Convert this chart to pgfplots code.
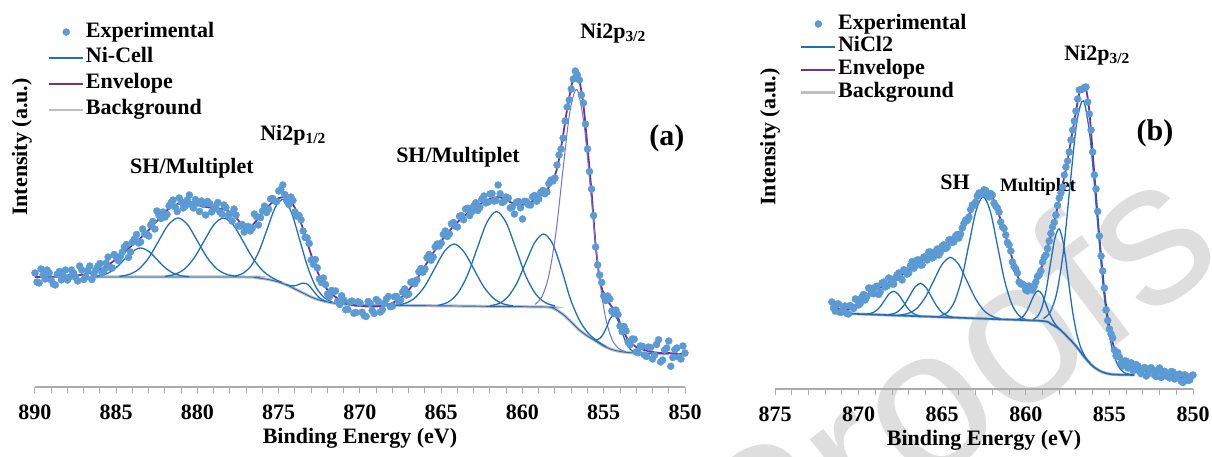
\documentclass[border=0pt]{standalone}
\usepackage{fontspec}
\setmainfont{Liberation Serif}
\setsansfont{Liberation Sans}
\usepackage{pgfplots}
\pgfplotsset{compat=1.18}

\definecolor{expblue}{RGB}{91,155,213}
\definecolor{compblue}{RGB}{30,110,192}
\definecolor{mainviolet}{RGB}{112,112,215}
\definecolor{envpurple}{RGB}{112,48,160}
\definecolor{bggray}{RGB}{191,191,191}
\definecolor{axgray}{RGB}{170,170,170}
\definecolor{wmgray}{RGB}{222,222,222}

\newcommand{\bigbf}{\bfseries\fontsize{22}{24}\selectfont}
\newcommand{\labbf}{\bfseries\fontsize{30}{32}\selectfont}

\pgfplotsset{
  xps/.style={
    scale only axis, clip=false, x dir=reverse, ymin=0,
    axis x line*=bottom, axis y line*=left,
    y axis line style={draw=none},
    x axis line style={draw=axgray, line width=1.3pt, -},
    ytick=\empty,
    minor x tick num=4,
    tick align=outside,
    major tick length=6pt, minor tick length=6pt,
    tick style={draw=axgray, line width=1pt},
    xticklabel style={font=\bigbf, text=black, yshift=-8pt},
    /pgf/number format/assume math mode=true,
    /pgf/number format/1000 sep={},
    xlabel={Binding Energy (eV)},
    ylabel={Intensity (a.u.)},
    every axis x label/.style={at={(axis description cs:0.5,0)}, anchor=center, yshift=-51pt, font=\bigbf},
    legend style={draw=none, fill=none, inner sep=0pt, outer sep=0pt, font=\bigbf, anchor=north west,
      nodes={inner xsep=1.5pt, inner ysep=0pt, text height=15pt, text depth=5pt}},
    legend cell align=left,
  },
  comp/.style={draw=compblue, line width=1.3pt, smooth, forget plot},
  mainc/.style={draw=mainviolet, line width=1pt, smooth, forget plot},
  envl/.style={draw=envpurple, line width=1.8pt, smooth, forget plot},
  bgl/.style={draw=bggray, line width=3pt, smooth, forget plot},
  bgblue/.style={draw=compblue, line width=0.9pt, smooth, forget plot},
  expt/.style={only marks, mark=*, mark size=3.5pt, draw=expblue, fill=expblue, forget plot},
  linelegend/.style={legend image code/.code={\draw[##1] (0pt,0pt) -- (34pt,0pt);}},
  dotlegend/.style={legend image code/.code={\path (0pt,0pt) -- (34pt,0pt);\draw[##1] plot coordinates {(17pt,0pt)};}},
}

\begin{document}
\begin{tikzpicture}
\useasboundingbox (0pt,0pt) rectangle (1212pt,456pt);
\node[rotate=37, text=wmgray, font=\sffamily\fontsize{205}{205}\selectfont, inner sep=0pt] at (948pt,76pt) {Proofs};

% ---------------- panel (a) ----------------
\begin{axis}[xps, at={(35pt,69pt)}, anchor=south west, width=650pt, height=387pt, ymax=387,
  xmin=850, xmax=890, xtick={850,855,...,890},
  every axis y label/.style={at={(axis description cs:-0.02,0.62)}, rotate=90, anchor=center, font=\bigbf},
  legend style={at={(axis description cs:0.02,0.943)}, row sep=5.9pt}]

\addplot[bgl] coordinates {(886.5,110)(877,110)(876.5,109.5)(876,108.5)(875.5,107)(875,105)(874.5,102)(874,98)(873.5,94)(873,90)(872.5,87)(872,85)(871.5,83.5)(871,83)(870,82)(864,81)(858.5,80)(858.25,79.5)(858,78)(857.5,72.5)(857,65)(856.5,57)(856,51)(855.5,46)(855,41)(854.5,37.5)(854,35.5)(853.5,34.5)(853,34)(852,33.5)(851,33)};
\addplot[bgblue] coordinates {(886.5,110)(877,110)(876.5,109.5)(876,108.5)(875.5,107)(875,105)(874.5,102)(874,98)(873.5,94)(873,90)(872.5,87)(872,85)(871.5,83.5)(871,83)(870,82)(864,81)(858.5,80)(858.25,79.5)(858,78)(857.5,72.5)(857,65)(856.5,57)(856,51)(855.5,46)(855,41)(854.5,37.5)(854,35.5)(853.5,34.5)(853,34)(852,33.5)(851,33)};

\addplot[envl] coordinates {(890,110)(889.5,110)(889,110)(888.5,110.5)(888,111)(887.5,111.5)(887,112.5)(886.5,114.5)(886,117.5)(885.5,122)(885,128)(884.5,135)(884,142)(883.5,149)(883,157)(882.5,166)(882,175)(881.5,181)(881,184)(880.5,184)(880,182)(879.5,180)(879,179)(878.5,178)(878,175)(877.5,167)(877,157)(876.5,164)(876,174)(875.5,183)(875,189)(874.5,189)(874,179)(873.5,158)(873,132)(872.5,111)(872,97)(871.5,90)(871,85)(870.5,82)(870,81)(869.5,80.5)(869,80.5)(868.5,81.5)(868,84)(867.5,89)(867,97)(866.5,108)(866,121)(865.5,134)(865,146)(864.5,156)(864,165)(863.5,172)(863,179)(862.5,184)(862,188)(861.5,190)(861,187)(860.5,183)(860,182)(859.5,185)(859,190)(858.5,197)(858,212)(857.75,228)(857.5,252)(857.25,278)(857,300)(856.75,314)(856.5,306)(856.25,282)(856,240)(855.75,195)(855.5,142)(855.25,108)(855,93)(854.75,86)(854.5,80)(854.25,75)(854,64)(853.75,55)(853.5,47)(853,40)(852.5,37)(852,35)(851.5,34)(851,34)(850.5,33)(850,33)};

\addplot[expt] coordinates {(890,114)(889.75,104)(889.5,112)(889.25,117)(889,107)(888.75,102)(888.5,115.5)(888.25,111)(888,107)(887.75,117)(887.5,109.5)(887.25,121)(887,107.5)(886.75,116.5)(886.5,107.5)(886.25,117)(886,123.5)(885.75,117)(885.5,130)(885.25,119)(885,130)(884.75,130.5)(884.5,140)(884.25,129.5)(884,145)(883.75,152.5)(883.5,145)(883.25,153)(883,151)(882.75,165.5)(882.5,176)(882.25,168.5)(882,170)(881.75,181)(881.5,187)(881.25,175.5)(881,185)(880.75,181)(880.5,192)(880.25,179)(880,184)(879.75,186)(879.5,172)(879.25,183.5)(879,178)(878.75,184.5)(878.5,173)(878.25,179.5)(878,173)(877.75,178)(877.5,161)(877.25,162.5)(877,160)(876.75,156)(876.5,173)(876.25,162)(876,176)(875.75,174.5)(875.5,188)(875.25,186)(875,196)(874.75,202)(874.5,186)(874.25,190)(874,175)(873.75,171.5)(873.5,156)(873.25,149)(873,127)(872.75,127.5)(872.5,108)(872.25,109)(872,93)(871.75,96.5)(871.5,96)(871.25,82.5)(871,87)(870.75,77.5)(870.5,86)(870.25,74.5)(870,84)(869.75,71.5)(869.5,85.5)(869.25,76.5)(869,87.5)(868.75,75)(868.5,83.5)(868.25,90.5)(868,81)(867.75,90.5)(867.5,87)(867.25,98)(867,93)(866.75,105.5)(866.5,107)(866.25,118.5)(866,118)(865.75,132.5)(865.5,130)(865.25,143)(865,144)(864.75,156)(864.5,153)(864.25,164.5)(864,160)(863.75,171.5)(863.5,178)(863.25,171.5)(863,181)(862.75,176.5)(862.5,188)(862.25,184)(862,193)(861.75,186)(861.5,202)(861.25,184.5)(861,190)(860.75,179)(860.5,173)(860.25,185.5)(860,168)(859.75,185.5)(859.5,182)(859.25,191.5)(859,188)(858.75,196.5)(858.5,195)(858.25,207)(858,209)(857.75,232)(857.5,249)(857.25,280)(857,298)(856.75,316)(856.5,307)(856.25,284)(856,238)(855.75,198)(855.5,140)(855.25,112)(855,91)(854.75,91)(854.5,76)(854.25,77)(854,61)(853.75,60.5)(853.5,45)(853.25,48)(853,35)(852.75,41)(852.5,32)(852.25,40)(852,28)(851.75,42.5)(851.5,25)(851.25,37)(851,46)(850.75,29.5)(850.5,39)(850.25,28)(850,34)};
\addplot[expt] coordinates {(889.875,105)(889.625,118)(889.375,108)(889.125,114)(888.875,103)(888.625,113)(888.375,107)(888.125,117)(887.875,110)(887.625,114)(887.375,106)(887.125,117)(886.875,110)(886.625,121)(886.375,113)(886.125,121)(885.875,114)(885.625,124)(885.375,119.5)(885.125,132.5)(884.875,126.5)(884.625,135)(884.375,142.5)(884.125,135)(883.875,148)(883.625,144)(883.375,158)(883.125,153)(882.875,162)(882.625,158)(882.375,172)(882.125,175)(881.875,172.5)(881.625,184.5)(881.375,180)(881.125,189)(880.875,179)(880.625,187)(880.375,182.5)(880.125,187.5)(879.875,175.5)(879.625,182.5)(879.375,185.5)(879.125,175)(878.875,180.5)(878.625,175)(878.375,182)(878.125,171.5)(877.875,166)(877.625,172)(877.375,161)(877.125,155)(876.875,160.5)(876.625,159)(876.375,170.5)(876.125,169.5)(875.875,181)(875.625,177.75)(875.375,188.5)(875.125,185.5)(874.875,197.5)(874.625,192.5)(874.375,182.5)(874.125,186.5)(873.875,170.75)(873.625,167.25)(873.375,149.5)(873.125,143.5)(872.875,122.75)(872.625,119.25)(872.375,104.5)(872.125,102.5)(871.875,90.25)(871.625,95.75)(871.375,85.75)(871.125,91.25)(870.875,77.25)(870.625,84.75)(870.375,73.75)(870.125,85.25)(869.875,74.75)(869.625,70.5)(869.375,83.5)(869.125,73.5)(868.875,85.75)(868.625,77.25)(868.375,88)(868.125,80.25)(867.875,90.25)(867.625,85.75)(867.375,95)(867.125,92)(866.875,104.75)(866.625,103.25)(866.375,115.25)(866.125,114.75)(865.875,129.25)(865.625,126.75)(865.375,140)(865.125,141)(864.875,152.5)(864.625,150.5)(864.375,163.25)(864.125,160.75)(863.875,170.75)(863.625,167.25)(863.375,178.75)(863.125,175.25)(862.875,184.25)(862.625,179.75)(862.375,191)(862.125,185)(861.875,193.5)(861.625,186.5)(861.375,193.25)(861.125,185.75)(860.875,189)(860.625,180)(860.375,184.75)(860.125,179.25)(859.875,185.75)(859.625,182.25)(859.375,190.25)(859.125,185.75)(858.875,194.75)(858.625,193.25)(858.375,203.5)(858.125,206)(857.875,222)(857.625,238)(857.375,266)(857.125,287)(856.875,308)(856.625,312)(856.375,292)(856.125,263)(855.875,215.5)(855.625,171.5)(855.375,122)(855.125,104.5)(854.875,86.5)(854.625,88)(854.375,73.5)(854.125,72.5)(853.875,55.5)(853.625,56)(853.375,42.25)(853.125,47.75)(852.875,34.25)(852.625,40.75)(852.375,30.5)(852.125,39.5)(851.875,31.75)(851.625,47.25)(851.375,27)(851.125,39)(850.875,20.75)(850.625,37.25)(850.375,30)(850.125,41)};

\addplot[comp] coordinates {(886.5,110.3)(886,111.3)(885.5,113.9)(885,119.4)(884.5,127.6)(884,135.6)(883.5,139)(883,135.6)(882.5,127.6)(882,119.4)(881.5,113.9)(881,111.3)(880.5,110.3)};
\addplot[comp] coordinates {(884.8,110.7)(884.2,112.6)(883.6,118)(883,129.2)(882.4,145.8)(881.8,162.1)(881.2,169)(880.6,162.1)(880,145.8)(879.4,129.2)(878.8,118)(878.2,112.6)(877.6,110.7)};
\addplot[comp] coordinates {(882,110.7)(881.4,112.6)(880.8,118)(880.2,129.2)(879.6,145.8)(879,162.1)(878.4,169)(877.8,162.1)(877.2,145.8)(876.6,128.9)(876,116.5)(875.4,109.2)(874.8,104.5)};
\addplot[comp] coordinates {(877.7,110.9)(877.2,113.7)(876.7,121.2)(876.2,136.3)(875.7,158.5)(875.2,180.1)(874.7,187.6)(874.2,173.7)(873.7,146.5)(873.2,119.1)(872.7,99.6)(872.2,89.5)(871.7,84.9)};
\addplot[comp] coordinates {(874.55,102.5)(874.3,101.3)(874.05,101.1)(873.8,102.3)(873.55,103.8)(873.3,103.4)(873.05,99.8)(872.8,94.7)(872.55,90)(872.3,87.1)(872.05,85.4)};
\addplot[comp] coordinates {(867.8,81.9)(867.2,83.7)(866.6,89.4)(866,101.1)(865.4,118.6)(864.8,135.7)(864.2,143)(863.6,135.2)(863,118.1)(862.4,100.6)(861.8,88.9)(861.2,83.2)(860.6,81.2)};
\addplot[comp] coordinates {(865.2,81.6)(864.6,84.7)(864,93.4)(863.4,111.3)(862.8,138.1)(862.2,164.3)(861.6,175.5)(861,164.2)(860.4,138)(859.8,111.1)(859.2,93.2)(858.6,84.4)(858,81.1)};
\addplot[comp] coordinates {(862,81.3)(861.45,83.5)(860.9,90.1)(860.35,103.8)(859.8,124.4)(859.25,144.4)(858.7,153)(858.15,143.4)(857.6,117.9)(857.05,87.9)(856.5,66.9)(855.95,53.7)(855.4,46)(854.85,40.2)};
\addplot[mainc] coordinates {(859.23,82.6)(858.8,90.4)(858.37,112)(857.94,154.7)(857.51,216.9)(857.08,275.8)(856.65,297.4)(856.22,263.6)(855.79,193.2)(855.36,121.9)(854.93,72.7)(854.5,47.9)(854.07,38.4)(853.64,35.3)};
\addplot[comp] coordinates {(855.6,47.7)(855.35,47.5)(855.1,51.1)(854.85,58.9)(854.6,68.4)(854.35,71.8)(854.1,65.6)(853.85,53.9)(853.6,43.3)(853.35,37.4)(853.1,34.8)};

\addlegendimage{dotlegend, draw=none, mark=*, mark size=3.5pt, mark options={draw=expblue, fill=expblue}}
\addlegendentry{Experimental}
\addlegendimage{linelegend, draw=compblue, line width=1.5pt}
\addlegendentry{Ni-Cell}
\addlegendimage{linelegend, draw=envpurple, line width=2pt}
\addlegendentry{Envelope}
\addlegendimage{linelegend, draw=bggray, line width=2.5pt}
\addlegendentry{Background}

\node[font=\bigbf] at (axis cs:880.34,219) {SH/Multiplet};
\node[font=\bigbf] at (axis cs:874.12,252) {Ni2p\textsubscript{1/2}};
\node[font=\bigbf] at (axis cs:863.97,230) {SH/Multiplet};
\node[font=\bigbf] at (axis cs:854.43,354) {Ni2p\textsubscript{3/2}};
\node[font=\labbf] at (axis cs:851.11,249) {(a)};
\end{axis}

% ---------------- panel (b) ----------------
\begin{axis}[xps, at={(775pt,67pt)}, anchor=south west, width=418pt, height=389pt, ymax=389,
  xmin=850, xmax=875, xtick={850,855,...,875},
  every axis y label/.style={at={(axis description cs:-0.012,0.648)}, rotate=90, anchor=center, font=\bigbf},
  legend style={at={(axis description cs:0.06,0.964)}, row sep=2.9pt}]

\addplot[bgl] coordinates {(871.5,76)(870,75)(866,72.5)(862,70)(859,68)(858.5,65)(858,60)(857.5,52)(857,43)(856.5,32)(856,23)(855.5,17.5)(855,15)(854.5,14.3)(853.5,14)};
\addplot[bgblue, line width=1.6pt] coordinates {(871.5,76)(870,75)(866,72.5)(862,70)(859,68)(858.5,65)(858,60)(857.5,52)(857,43)(856.5,32)(856,23)(855.5,17.5)(855,15)(854.5,14.3)(853.5,14)};

\addplot[envl] coordinates {(871.6,84)(871.2,80)(870.8,79)(870.4,81)(870,87)(869.6,93)(869.2,97.5)(868.8,100.5)(868.4,104)(868,108)(867.6,112)(867.2,116.5)(866.8,121.5)(866.4,126)(866,130)(865.6,134)(865.2,138)(864.8,142.5)(864.4,147.5)(864,154)(863.6,167)(863.2,181)(862.8,194)(862.4,197.5)(862,192)(861.6,174)(861.2,153)(860.8,130)(860.4,109)(860,100)(859.6,101)(859.2,115)(858.8,136)(858.4,160)(858,190)(857.6,220)(857.2,258)(856.8,296)(856.6,301)(856.4,300)(856.2,278)(856,236)(855.6,152)(855.2,83)(854.8,46)(854.4,31)(854,25)(853.6,21.5)(853.2,19.5)(852.8,18)(852,16)(851.2,13)(850.4,11)(850,10)};

\addplot[expt] coordinates {(871.6,87)(871.4,78)(871.2,85)(871,77)(870.8,83)(870.6,75)(870.4,82)(870.2,90)(870,84)(869.8,92)(869.6,89)(869.4,101)(869.2,96.5)(869,102)(868.8,94.5)(868.6,106)(868.4,102)(868.2,111)(868,105)(867.8,111)(867.6,116)(867.4,109)(867.2,118.5)(867,116)(866.8,127.5)(866.6,123)(866.4,129)(866.2,124)(866,132)(865.8,137)(865.6,131)(865.4,137)(865.2,134)(865,143)(864.8,140.5)(864.6,149)(864.4,146.5)(864.2,153)(864,151)(863.8,161)(863.6,169)(863.4,172)(863.2,184)(863,187)(862.8,196)(862.6,195)(862.4,198.5)(862.2,192)(862,194)(861.8,183)(861.6,177)(861.4,162)(861.2,154)(861,144)(860.8,127)(860.6,120)(860.4,107)(860.2,105)(860,99)(859.8,103)(859.6,99)(859.4,107)(859.2,114)(859,127)(858.8,134)(858.6,148)(858.4,162)(858.2,174)(858,191)(857.8,202)(857.6,222)(857.4,237)(857.2,259)(857,278)(856.8,299)(856.6,300)(856.4,302)(856.2,275)(856,237)(855.8,200)(855.6,153)(855.4,118)(855.2,79)(855,60)(854.8,51)(854.6,33)(854.4,32)(854.2,23)(854,28)(853.8,25)(853.6,18.5)(853.4,24.5)(853.2,17.5)(853,20)(852.8,13)(852.6,20.5)(852.4,19)(852.2,12.5)(852,21)(851.8,13)(851.6,15.5)(851.4,11)(851.2,17)(851,11)(850.8,15)(850.6,6.5)(850.4,13)(850.2,9)(850,14)};
\addplot[expt] coordinates {(871.5,81)(871.3,85)(871.1,76.5)(870.9,81)(870.7,75.5)(870.5,83.5)(870.3,80.5)(870.1,89.5)(869.9,85.5)(869.7,94.5)(869.5,92.5)(869.3,100.75)(869.1,95.25)(868.9,102.75)(868.7,97.25)(868.5,107)(868.3,103)(868.1,110)(867.9,105)(867.7,114)(867.5,111)(867.3,119.25)(867.1,114.75)(866.9,123.25)(866.7,120.75)(866.5,129)(866.3,124)(866.1,132)(865.9,129)(865.7,137)(865.5,132)(865.3,140)(865.1,137)(864.9,144.25)(864.7,141.75)(864.5,149.25)(864.3,147.25)(864.1,154.5)(863.9,155)(863.7,165.5)(863.5,168.5)(863.3,179.5)(863.1,183.5)(862.9,193)(862.7,194.5)(862.5,199.25)(862.3,195.25)(862.1,195.5)(861.9,186)(861.7,181)(861.5,167)(861.3,160.5)(861.1,146.5)(860.9,138)(860.7,122.5)(860.5,116)(860.3,105)(860.1,103.5)(859.9,98)(859.7,102.5)(859.5,102.5)(859.3,112.5)(859.1,118)(858.9,131.5)(858.7,140.5)(858.5,155.5)(858.3,166.5)(858.1,183.5)(857.9,196)(857.7,214)(857.5,228)(857.3,249)(857.1,268)(856.9,290)(856.7,299.5)(856.5,301.5)(856.3,287)(856.1,259)(855.9,214)(855.7,177.5)(855.5,133)(855.3,101)(855.1,68.5)(854.9,55)(854.7,39)(854.5,36.5)(854.3,26)(854.1,28)(853.9,21)(853.7,26.25)(853.5,19)(853.3,23)(853.1,15.25)(852.9,21.5)(852.7,14.75)(852.5,21.25)(852.3,13.75)(852.1,18.25)(851.9,11.5)(851.7,17.75)(851.5,12.25)(851.3,17.5)(851.1,10)(850.9,14.5)(850.7,7.75)(850.5,14.25)(850.3,8.5)(850.1,13)};

\addplot[comp] coordinates {(869.55,75)(869.275,75.6)(869,77.7)(868.725,82)(868.45,88.6)(868.175,95.1)(867.9,97.7)(867.625,94.7)(867.35,88)(867.075,81)(866.8,76.3)(866.525,73.9)(866.25,72.9)};
\addplot[comp] coordinates {(868.25,74.3)(867.925,75.2)(867.6,78)(867.275,84)(866.95,93.1)(866.625,102)(866.3,105.7)(865.975,101.6)(865.65,92.3)(865.325,82.8)(865,76.4)(864.675,73.1)(864.35,71.8)};
\addplot[comp] coordinates {(867.5,74.1)(867,75.8)(866.5,80.9)(866,92)(865.5,108.6)(865,124.8)(864.5,131.6)(864,124.2)(863.5,107.3)(863,90.1)(862.5,78.4)(862,72.6)(861.5,70.2)};
\addplot[comp] coordinates {(865.1,73.3)(864.675,77)(864.25,87.9)(863.825,110.7)(863.4,144.9)(862.975,178.3)(862.55,192.3)(862.125,177.8)(861.7,143.7)(861.275,108.9)(860.85,85.4)(860.425,73.8)(860,69.4)};
\addplot[comp] coordinates {(860.6,69.4)(860.375,70.2)(860.15,72.9)(859.925,78.3)(859.7,86.7)(859.475,94.8)(859.25,98.2)(859.025,94.5)(858.8,85)(858.575,75.2)(858.35,67.6)(858.125,62.5)(857.9,58.7)};
\addplot[comp] coordinates {(859.56,69.5)(859.3,72.6)(859.04,81.5)(858.78,99.2)(858.52,125.9)(858.26,150.9)(858,160)(857.74,144.1)(857.48,112.3)(857.22,79.5)(856.96,55.6)(856.7,40.8)(856.44,32)(856.18,26.3)};
\addplot[comp] coordinates {(858.95,70.5)(858.55,76.7)(858.15,96)(857.75,138)(857.35,204.3)(856.95,266.9)(856.55,288.1)(856.15,250.7)(855.75,175)(855.35,99.6)(854.95,49.4)(854.55,25.6)(854.15,16.9)(853.75,14.6)};

\addlegendimage{dotlegend, draw=none, mark=*, mark size=3.5pt, mark options={draw=expblue, fill=expblue}}
\addlegendentry{Experimental}
\addlegendimage{linelegend, draw=compblue, line width=1.5pt}
\addlegendentry{NiCl2}
\addlegendimage{linelegend, draw=envpurple, line width=2pt}
\addlegendentry{Envelope}
\addlegendimage{linelegend, draw=bggray, line width=2.5pt}
\addlegendentry{Background}

\node[font=\bigbf] at (axis cs:855.74,334) {Ni2p\textsubscript{3/2}};
\node[font=\labbf] at (axis cs:852.27,256) {(b)};
\node[font=\bigbf] at (axis cs:864.23,207) {SH};
\node[font=\bfseries\fontsize{19}{21}\selectfont] at (axis cs:859.27,202) {Multiplet};
\end{axis}
\end{tikzpicture}
\end{document}
